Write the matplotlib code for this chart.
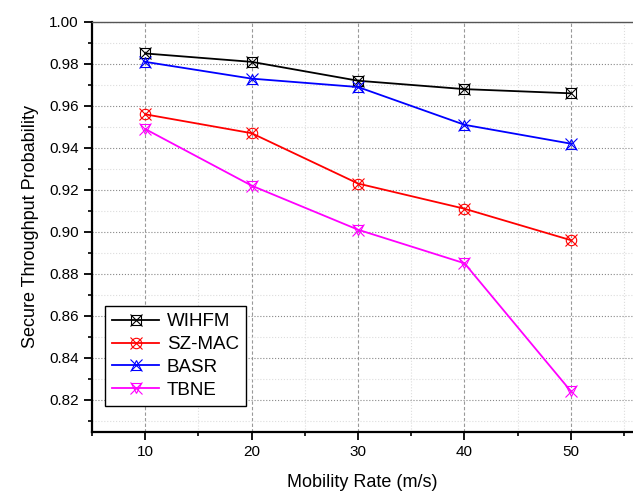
import matplotlib.pyplot as plt
import numpy as np
from matplotlib.ticker import MultipleLocator
from matplotlib.legend_handler import HandlerTuple

plt.rcParams['font.family'] = ['Liberation Sans', 'DejaVu Sans']

rate = [10, 20, 30, 40, 50]
wihfm = [0.985, 0.981, 0.972, 0.968, 0.966]
szmac = [0.956, 0.947, 0.923, 0.911, 0.896]
basr = [0.981, 0.973, 0.969, 0.951, 0.942]
tbne = [0.949, 0.922, 0.901, 0.885, 0.824]

names = ["WIHFM", "SZ-MAC", "BASR", "TBNE"]
colors = ["#000000", "#ff0000", "#0000ff", "#ff00ff"]
# outline marker drawn with an 'x' on top of it
shapes = ['s', 'o', '^', 'v']

fig = plt.figure(figsize=(6.33, 4.95), dpi=100)
ax = fig.add_axes([0.1453, 0.1273, 0.855, 0.8283])

handles = []
for y, name, c, m in zip([wihfm, szmac, basr, tbne], names, colors, shapes):
    l1, = ax.plot(rate, y, color=c, lw=1.3, marker=m, ms=7.5, mfc='none', mec=c,
                  mew=0.8, zorder=3)
    l2, = ax.plot(rate, y, ls='none', marker='x', ms=8.5, mec=c, mew=0.8, zorder=3)
    handles.append((l1, l2))

ax.set_xlim(5, 55.85)
ax.set_ylim(0.8046, 1.0)
ax.xaxis.set_major_locator(MultipleLocator(10))
ax.xaxis.set_minor_locator(MultipleLocator(5))
ax.yaxis.set_major_locator(MultipleLocator(0.02))
ax.yaxis.set_minor_locator(MultipleLocator(0.01))
ax.yaxis.set_major_formatter(plt.FormatStrFormatter('%.2f'))

ax.grid(axis='x', which='major', color='#999999', ls=(0, (3, 2)), lw=0.8)
ax.grid(axis='y', which='major', color='#888888', ls=':', lw=0.8)
ax.grid(which='minor', color='#dddddd', ls=':', lw=0.8)
ax.set_axisbelow(True)

ax.tick_params(which='major', direction='out', length=6, width=1.3, labelsize=11)
ax.tick_params(which='minor', direction='out', length=3, width=1.2)
ax.spines['right'].set_visible(False)
ax.spines['left'].set_linewidth(1.6)
ax.spines['bottom'].set_linewidth(1.6)
ax.spines['top'].set_linewidth(1.0)
ax.spines['top'].set_color('#555555')

ax.set_xlabel("Mobility Rate (m/s)", fontsize=13, labelpad=11)
ax.set_ylabel("Secure Throughput Probability", fontsize=13, labelpad=7)

leg = ax.legend(handles, names, handler_map={tuple: HandlerTuple(ndivide=1)},
                loc='lower left', bbox_to_anchor=(0.024, 0.063), fontsize=13.5,
                fancybox=False, edgecolor='black', framealpha=1, handlelength=2.5,
                labelspacing=0.3, borderaxespad=0, handletextpad=0.4)
leg.get_frame().set_linewidth(1.0)

fig.savefig("out.png", dpi=100)
